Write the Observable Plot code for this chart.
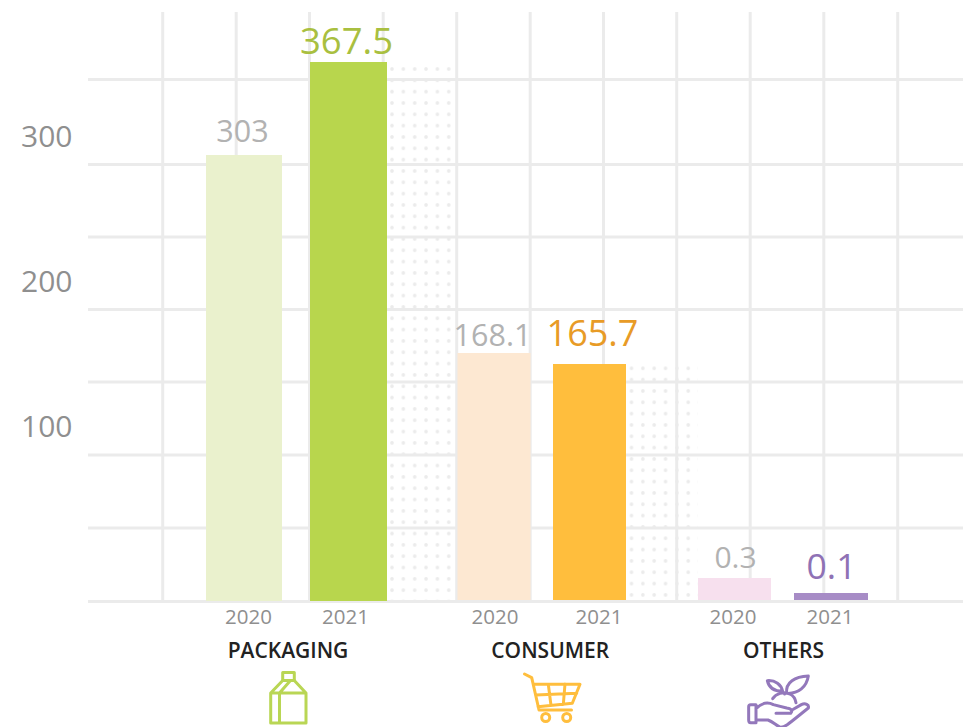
<!DOCTYPE html>
<html>
<head>
<meta charset="utf-8">
<script src="https://cdn.jsdelivr.net/npm/d3@7"></script>
<script src="https://cdn.jsdelivr.net/npm/@observablehq/plot@0.6"></script>
<style>
  html, body { margin: 0; padding: 0; background: #fff; }
  svg { display: block; }
</style>
</head>
<body>
<div id="chart"></div>
<script>
// Sales by segment, 2020 against 2021
const groups = ["PACKAGING", "CONSUMER", "OTHERS"];
const years = ["2020", "2021", "2020", "2021", "2020", "2021"];
const values = [303, 367.5, 168.1, 165.7, 0.3, 0.1];
const barColors = ["#eaf1cd", "#b8d64d", "#fde8d2", "#ffbe3d", "#f7e0ee", "#a78cc6"];
const valueColors = ["#b2b2b2", "#a9bf40", "#b2b2b2", "#e89b26", "#b2b2b2", "#8f72b5"];
const yTicks = [100, 200, 300];
const gridValues = [0, 50, 100, 150, 200, 250, 300, 350];

// Layout: each bar owns slot i, with edges at i - 0.4 and i + 0.4.
const xKnots = [-0.4, 0.4, 0.6, 1.4, 1.6, 2.4, 2.6, 3.4, 3.6, 4.4, 4.6, 5.4];
const xEdges = [206, 282, 310, 387, 457.5, 530.5, 553, 626, 698, 771, 794, 868];
// The value axis is stretched near zero so the tiny bars remain visible.
const yKnots = [0, 0.1, 0.3, 50, 100, 150, 165.7, 168.1, 200, 250, 300, 303, 350, 367.5];
const yPixels = [601, 593, 578, 527.5, 454.5, 381.5, 364, 353, 309, 236.5, 164, 155, 79, 62];
const gridPixels = [162.2, 235.7, 309, 382.7, 456.2, 529.7, 603, 676.2, 749.7, 823.3, 897.2];
const slotOf = d3.scaleLinear(xEdges, xKnots);

// Per-label nudges: [horizontal, lift above the bar, font size]
const valueLabelLayout = [
  [-2, 14, 30.5], [-2.5, 9, 36.5], [-2, 8, 30.5], [2.5, 19, 36], [0.5, 11, 30], [0, 15, 35.5]
];
const yearLabelShift = [4, -3.5, 0.5, 9, -2, -1.5];
const groupLabelAt = [[0.5, -8.5], [2.5, 8], [4.5, 0.5]];

const bars = values.map((value, i) => ({
  i, value, year: years[i], fill: barColors[i], ink: valueColors[i], isFirstGroup: i < 2
}));
const shadowed = bars.filter(d => d.year === "2021" && d.i < 4);

const FONT = "'Open Sans', sans-serif";

// Dotted swatches next to the 2021 bars, as SVG patterns.
function dotPatterns() {
  const defs = d3.create("svg:defs");
  [["dotsA", 392, 69], ["dotsB", 631.5, 368.3]].forEach(([id, cx, cy]) => {
    const p = defs.append("pattern")
      .attr("id", id).attr("patternUnits", "userSpaceOnUse")
      .attr("x", cx - 5.675).attr("y", cy - 5.665)
      .attr("width", 11.35).attr("height", 11.33);
    p.append("circle").attr("cx", 5.675).attr("cy", 5.665).attr("r", 1.8).attr("fill", "#ebebeb");
  });
  return defs.node();
}

// Line icons under the group names.
function groupIcons() {
  const g = d3.create("svg:g").attr("fill", "none").attr("stroke-linejoin", "round").attr("stroke-linecap", "round");
  const carton = g.append("g").attr("stroke", "#b9d654").attr("stroke-width", 3).attr("stroke-linecap", "butt");
  carton.append("rect").attr("x", 282.7).attr("y", 672.5).attr("width", 11.6).attr("height", 8);
  carton.append("path").attr("d", "M270.7 693L282.7 680.5H294.3L306 693V723H270.7ZM270.7 693H306M279.5 723V693L290 681");
  const cart = g.append("g").attr("stroke", "#ffbe3d").attr("stroke-width", 3);
  cart.append("path").attr("d",
    "M524.5 674L531.7 677.7L539 710H571.5M533.3 684.3H580L572.3 703.3L538 706.7M548.3 684.3L551 705.5M565 684L563.3 704.5M535.5 695L576.7 693.3");
  cart.append("circle").attr("cx", 545.7).attr("cy", 717.5).attr("r", 4);
  cart.append("circle").attr("cx", 566.7).attr("cy", 717.5).attr("r", 4);
  const hand = g.append("g").attr("stroke", "#9378bb").attr("stroke-width", 9).attr("transform", "translate(740 670) scale(0.3333)");
  hand.append("path").attr("d",
    "M48 104H32Q26 104 26 110V150Q26 158 32 158H48ZM48 116C66 98 82 94 100 104L140 114C152 116 160 120 152 130L108 130M48 150H84C100 156 110 168 122 172C136 172 150 158 205 114C208 104 196 98 184 104L160 118");
  hand.append("path").attr("d",
    "M98 86C108 70 130 64 150 72C158 76 166 86 168 98M140 70C136 36 165 20 205 18C200 50 176 72 140 70ZM128 64C124 44 106 30 82 32C86 50 100 64 128 64ZM128 64L134 72");
  return g.node();
}

const barRects = rows => Plot.rect(rows, {
  x1: d => d.i - 0.4, x2: d => d.i + 0.4, y1: 0, y2: "value", fill: "fill"
});

const valueLabels = bars.map(d => {
  const [dx, lift, fontSize] = valueLabelLayout[d.i];
  return Plot.text([d], {
    x: "i", y: "value", text: v => String(v.value), fill: "ink",
    dx, dy: -lift, fontSize, lineAnchor: "bottom", textAnchor: "middle"
  });
});

const yearLabels = bars.map(d => Plot.text([d], {
  x: "i", text: "year", fill: "#8f8f8f", fontSize: 20.5,
  frameAnchor: "bottom", lineAnchor: "middle", dx: yearLabelShift[d.i], dy: 16
}));

const groupLabels = groups.map((name, k) => Plot.text([name], {
  x: () => groupLabelAt[k][0], text: d => d, fill: "#222", fontSize: 21, fontWeight: 600,
  frameAnchor: "bottom", lineAnchor: "middle", dx: groupLabelAt[k][1], dy: 49.5
}));

const chart = Plot.plot({
  width: 963,
  height: 727,
  marginTop: 12,
  marginBottom: 126,
  marginLeft: 88,
  marginRight: 0,
  style: { fontFamily: FONT, background: "transparent" },
  x: { type: "linear", domain: xKnots, range: xEdges, axis: null },
  y: { type: "linear", domain: yKnots, range: yPixels, axis: null },
  marks: [
    dotPatterns,
    Plot.rect(shadowed, {
      x1: d => d.i + 0.4, x2: d => d.i + 0.6, y1: 0, y2: "value",
      fill: d => d.i === 1 ? "url(#dotsA)" : "url(#dotsB)"
    }),
    Plot.ruleX(gridPixels.map(slotOf), { stroke: "#ebebeb", strokeWidth: 3 }),
    Plot.ruleY(gridValues.slice(1), { stroke: "#ebebeb", strokeWidth: 3 }),
    barRects(bars.filter(d => !d.isFirstGroup)),
    Plot.ruleY([0], { stroke: "#ebebeb", strokeWidth: 3 }),
    barRects(bars.filter(d => d.isFirstGroup)),
    Plot.axisY(yTicks, {
      anchor: "left", label: null, tickSize: 0, tickPadding: 16, dy: -27.5,
      fontSize: 30, fill: "#8f8f8f"
    }),
    ...valueLabels,
    ...yearLabels,
    ...groupLabels,
    groupIcons
  ]
});
document.getElementById("chart").append(chart);
</script>
</body>
</html>
